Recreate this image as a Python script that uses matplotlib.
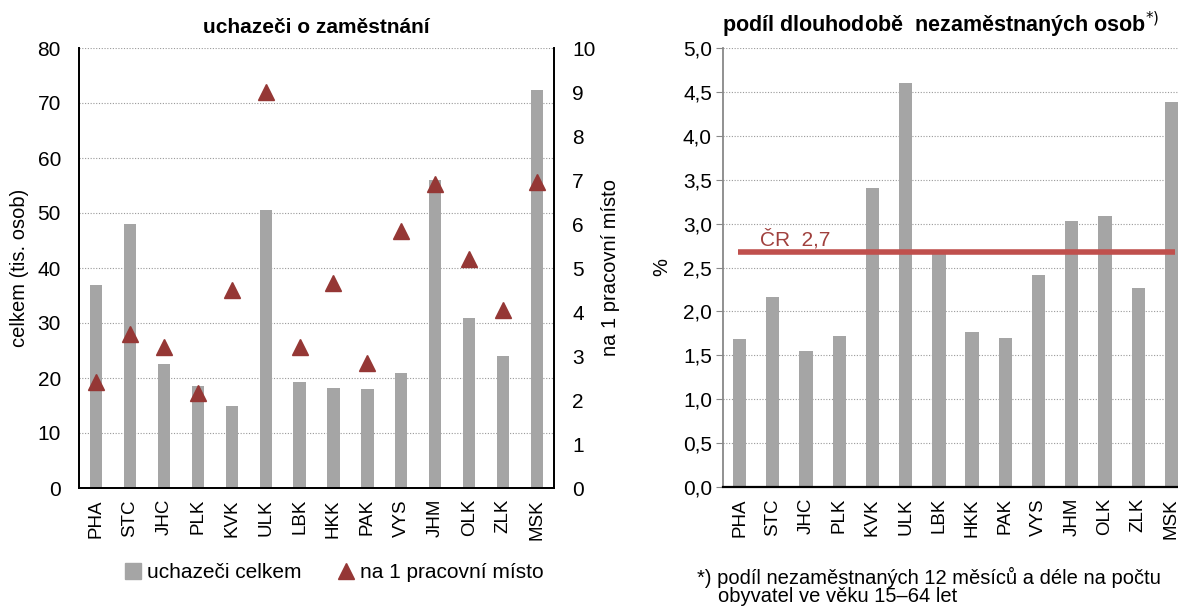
import matplotlib.pyplot as plt
from matplotlib.lines import Line2D
import numpy as np

plt.rcParams['font.family'] = ['Liberation Sans', 'DejaVu Sans']

kraje = ['PHA', 'STC', 'JHC', 'PLK', 'KVK', 'ULK', 'LBK', 'HKK', 'PAK', 'VYS', 'JHM', 'OLK', 'ZLK', 'MSK']
uchazeci = [37, 48, 22.5, 18.5, 15, 50.5, 19.3, 18.2, 18, 21, 56, 31, 24, 72.3]
na_misto = [2.4, 3.5, 3.2, 2.15, 4.5, 9.0, 3.2, 4.65, 2.85, 5.85, 6.9, 5.2, 4.05, 6.95]
dlouhodobi = [1.68, 2.16, 1.55, 1.72, 3.4, 4.6, 2.67, 1.77, 1.7, 2.42, 3.03, 3.09, 2.27, 4.38]
cr_prumer = 2.68

sedy = '#a5a5a5'
cerveny = '#953735'
x = np.arange(len(kraje))

fig = plt.figure(figsize=(11.78, 6.07), dpi=100)

# levy graf
ax = fig.add_axes([79/1178, 1-488/607, (554-79)/1178, 440/607])
ax.bar(x, uchazeci, width=0.36, color=sedy, zorder=2)
ax.set_xlim(-0.5, 13.5)
ax.set_ylim(0, 80)
ax.set_yticks(range(0, 81, 10))
ax.grid(axis='y', linestyle=(0, (1, 1.5)), color='#999999', linewidth=0.8)
ax.set_axisbelow(True)
ax.tick_params(axis='y', length=0, labelsize=15, pad=13)
ax.tick_params(axis='x', length=0, labelsize=13.5, rotation=90, pad=8)
ax.set_xticks(x)
ax.set_xticklabels(kraje)
ax.spines['top'].set_visible(False)
for s in ['left', 'right', 'bottom']:
    ax.spines[s].set_linewidth(1.3)
ax.set_ylabel('celkem (tis. osob)', fontsize=14.5, labelpad=6)
ax.set_title('uchazeči o zaměstnání', fontsize=15, fontweight='bold', pad=11)

ax2 = ax.twinx()
ax2.plot(x, na_misto, linestyle='none', marker='^', markersize=11, color=cerveny)
ax2.set_ylim(0, 10)
ax2.set_yticks(range(0, 11))
ax2.tick_params(axis='y', length=0, labelsize=15, pad=13)
ax2.spines['top'].set_visible(False)
for s in ['left', 'right', 'bottom']:
    ax2.spines[s].set_linewidth(1.3)
ax2.set_ylabel('na 1 pracovní místo', fontsize=14.5, labelpad=4)

h1 = Line2D([], [], linestyle='none', marker='s', markersize=11, color=sedy)
h2 = Line2D([], [], linestyle='none', marker='^', markersize=11, color=cerveny)
fig.legend([h1, h2], ['uchazeči celkem', 'na 1 pracovní místo'], loc='center',
           bbox_to_anchor=(333/1178, 1-573/607), ncol=2, frameon=False, fontsize=15,
           handletextpad=0.2, columnspacing=1.6, handlelength=1.0)

# pravy graf
bx = fig.add_axes([723/1178, 1-487/607, (1188-723)/1178, 439/607])
bx.bar(x, dlouhodobi, width=0.4, color=sedy, zorder=2)
bx.set_xlim(-0.5, 13.5)
bx.set_ylim(0, 5)
bx.set_yticks(np.arange(0, 5.01, 0.5))
bx.set_yticklabels([f'{v:.1f}'.replace('.', ',') for v in np.arange(0, 5.01, 0.5)])
bx.grid(axis='y', linestyle=(0, (1, 1.5)), color='#999999', linewidth=0.8)
bx.set_axisbelow(True)
bx.tick_params(axis='y', length=5, color='#888888', labelsize=15, pad=3)
bx.tick_params(axis='x', length=0, labelsize=13.5, rotation=90, pad=8)
bx.set_xticks(x)
bx.set_xticklabels(kraje)
bx.spines['top'].set_visible(False)
bx.spines['right'].set_visible(False)
bx.spines['left'].set_color('#888888')
bx.spines['left'].set_linewidth(1.3)
bx.spines['bottom'].set_linewidth(1.6)
bx.set_ylabel('%', fontsize=14.5, labelpad=8)
bx.plot([-0.05, 13.1], [cr_prumer, cr_prumer], color='#c0504d', linewidth=4, zorder=3,
        solid_capstyle='butt')
bx.text(0.6, cr_prumer + 0.07, 'ČR  2,7', color='#a0403d', fontsize=15, zorder=4)

fig.text(722/1178, 1-25/607, 'podíl dlouhodobě  nezaměstnaných osob$^{*)}$', fontsize=15.5,
         fontweight='bold', va='center', ha='left')
fig.text(697/1178, 1-577/607, '*) podíl nezaměstnaných 12 měsíců a déle na počtu',
         fontsize=14.5, va='center')
fig.text(718/1178, 1-597/607, 'obyvatel ve věku 15–64 let', fontsize=14.5, va='center')

fig.savefig('out.png', dpi=100)
